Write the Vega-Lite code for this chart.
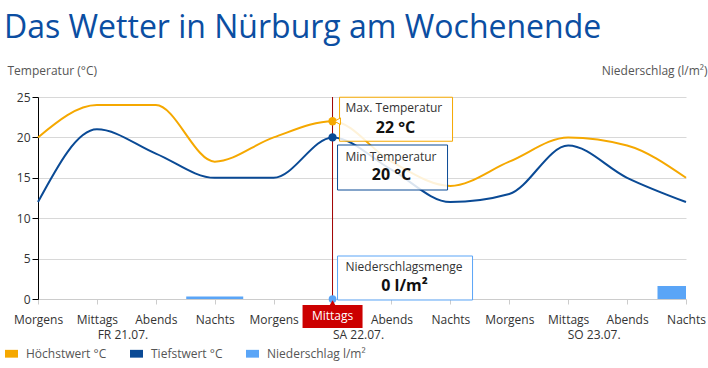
{
  "$schema": "https://vega.github.io/schema/vega-lite/v6.json",
  "width": 648,
  "height": 202,
  "autosize": {"type": "none"},
  "padding": {"left": 38, "top": 97, "right": 22, "bottom": 69},
  "background": "white",
  "config": {"font": "Open Sans", "view": {"stroke": null}},
  "title": {"text": "Das Wetter in Nürburg am Wochenende", "anchor": "start", "frame": "group", "dx": -34, "fontSize": 32, "fontWeight": "normal", "color": "#0b4ea2", "offset": 19},
  "datasets": {
    "temp": [
      {"slot": "FR Morgens", "series": "Höchstwert °C", "value": 20},
      {"slot": "FR Mittags", "series": "Höchstwert °C", "value": 24},
      {"slot": "FR Abends", "series": "Höchstwert °C", "value": 24},
      {"slot": "FR Nachts", "series": "Höchstwert °C", "value": 17},
      {"slot": "SA Morgens", "series": "Höchstwert °C", "value": 20},
      {"slot": "SA Mittags", "series": "Höchstwert °C", "value": 22},
      {"slot": "SA Abends", "series": "Höchstwert °C", "value": 17},
      {"slot": "SA Nachts", "series": "Höchstwert °C", "value": 14},
      {"slot": "SO Morgens", "series": "Höchstwert °C", "value": 17},
      {"slot": "SO Mittags", "series": "Höchstwert °C", "value": 20},
      {"slot": "SO Abends", "series": "Höchstwert °C", "value": 19},
      {"slot": "SO Nachts", "series": "Höchstwert °C", "value": 15},
      {"slot": "FR Morgens", "series": "Tiefstwert °C", "value": 12},
      {"slot": "FR Mittags", "series": "Tiefstwert °C", "value": 21},
      {"slot": "FR Abends", "series": "Tiefstwert °C", "value": 18},
      {"slot": "FR Nachts", "series": "Tiefstwert °C", "value": 15},
      {"slot": "SA Morgens", "series": "Tiefstwert °C", "value": 15},
      {"slot": "SA Mittags", "series": "Tiefstwert °C", "value": 20},
      {"slot": "SA Abends", "series": "Tiefstwert °C", "value": 16},
      {"slot": "SA Nachts", "series": "Tiefstwert °C", "value": 12},
      {"slot": "SO Morgens", "series": "Tiefstwert °C", "value": 13},
      {"slot": "SO Mittags", "series": "Tiefstwert °C", "value": 19},
      {"slot": "SO Abends", "series": "Tiefstwert °C", "value": 15},
      {"slot": "SO Nachts", "series": "Tiefstwert °C", "value": 12}
    ],
    "rain": [
      {"slot": "FR Morgens", "series": "Niederschlag l/m²", "value": 0},
      {"slot": "FR Mittags", "series": "Niederschlag l/m²", "value": 0},
      {"slot": "FR Abends", "series": "Niederschlag l/m²", "value": 0},
      {"slot": "FR Nachts", "series": "Niederschlag l/m²", "value": 0.3},
      {"slot": "SA Morgens", "series": "Niederschlag l/m²", "value": 0},
      {"slot": "SA Mittags", "series": "Niederschlag l/m²", "value": 0},
      {"slot": "SA Abends", "series": "Niederschlag l/m²", "value": 0},
      {"slot": "SA Nachts", "series": "Niederschlag l/m²", "value": 0},
      {"slot": "SO Morgens", "series": "Niederschlag l/m²", "value": 0},
      {"slot": "SO Mittags", "series": "Niederschlag l/m²", "value": 0},
      {"slot": "SO Abends", "series": "Niederschlag l/m²", "value": 0},
      {"slot": "SO Nachts", "series": "Niederschlag l/m²", "value": 1.6}
    ],
    "days": [
      {"slot": "FR Mittags", "label": "FR 21.07."},
      {"slot": "SA Mittags", "label": "SA 22.07."},
      {"slot": "SO Mittags", "label": "SO 23.07."}
    ],
    "tips": [
      {"slot": "SA Mittags", "kind": "max", "value": 22, "head": "Max. Temperatur", "label": "22 °C"},
      {"slot": "SA Mittags", "kind": "min", "value": 20, "head": "Min Temperatur", "label": "20 °C"},
      {"slot": "SA Mittags", "kind": "rain", "value": 0, "head": "Niederschlagsmenge", "label": "0 l/m²"},
      {"slot": "SA Mittags", "kind": "sel", "value": 0, "head": "", "label": "Mittags"}
    ]
  },
  "encoding": {
    "x": {
      "field": "slot", "type": "nominal", "sort": null,
      "scale": {"type": "point", "padding": 0, "domain": ["FR Morgens", "FR Mittags", "FR Abends", "FR Nachts", "SA Morgens", "SA Mittags", "SA Abends", "SA Nachts", "SO Morgens", "SO Mittags", "SO Abends", "SO Nachts"]},
      "axis": {"title": null, "labelExpr": "datum.label == 'SA Mittags' ? '' : split(datum.label, ' ')[1]", "labelAngle": 0, "labelOverlap": false, "domainColor": "#cccccc", "tickColor": "#cccccc", "tickSize": 5, "labelPadding": 15, "labelBaseline": "middle", "labelColor": "#333333", "labelFontSize": 12, "grid": false}
    }
  },
  "layer": [
    {
      "data": {"name": "rain"},
      "mark": {"type": "bar", "width": 57, "clip": true},
      "encoding": {
        "y": {"field": "value", "type": "quantitative", "scale": {"domain": [0, 25], "nice": false},
          "axis": {"orient": "right", "title": "Niederschlag (l/m²)", "titleAngle": 0, "titleX": 21, "titleY": -27, "titleAlign": "right", "titleBaseline": "middle", "titleFontWeight": "normal", "titleFontSize": 12, "titleColor": "#555555", "labels": false, "ticks": false, "domain": false, "grid": false}},
        "color": {"field": "series", "type": "nominal",
          "scale": {"domain": ["Höchstwert °C", "Tiefstwert °C", "Niederschlag l/m²"], "range": ["#f5a800", "#0a4a95", "#5aa5f7"]},
          "legend": {"orient": "none", "legendX": -33, "legendY": 250, "direction": "horizontal", "title": null, "symbolType": "M-1,-0.6H1V0.6H-1Z", "symbolSize": 169, "symbolStrokeWidth": 0, "labelFontSize": 12, "labelColor": "#555555", "labelOffset": 8, "columnPadding": 23}}
      }
    },
    {
      "layer": [
        {
          "data": {"values": [{"slot": "SA Mittags"}]},
          "mark": {"type": "rule", "color": "#a00000", "strokeWidth": 1},
          "encoding": {}
        },
        {
          "data": {"name": "temp"},
          "mark": {"type": "line", "interpolate": "monotone", "strokeWidth": 2},
          "encoding": {
            "y": {"field": "value", "type": "quantitative", "scale": {"domain": [0, 25], "nice": false},
              "axis": {"title": "Temperatur (°C)", "titleAngle": 0, "titleX": -31, "titleY": -27, "titleAlign": "left", "titleBaseline": "middle", "titleFontWeight": "normal", "titleFontSize": 12, "titleColor": "#555555", "values": [0, 5, 10, 15, 20, 25], "grid": true, "gridColor": "#d8d8d8", "domainColor": "#000000", "tickColor": "#000000", "tickSize": 6, "labelPadding": 2, "labelColor": "#333333", "labelFontSize": 12}},
            "color": {"field": "series", "type": "nominal", "legend": null}
          }
        },
        {
          "data": {"name": "temp"},
          "transform": [{"filter": "datum.slot == 'SA Mittags'"}],
          "mark": {"type": "circle", "size": 70, "opacity": 1},
          "encoding": {
            "y": {"field": "value", "type": "quantitative"},
            "color": {"field": "series", "type": "nominal", "legend": null}
          }
        },
        {
          "data": {"name": "tips"},
          "transform": [{"filter": "datum.kind == 'rain'"}],
          "mark": {"type": "circle", "size": 60, "opacity": 1, "color": "#5aa5f7"},
          "encoding": {"y": {"field": "value", "type": "quantitative"}}
        },
        {
          "data": {"name": "days"},
          "mark": {"type": "text", "dx": 26, "dy": 36, "fontSize": 12, "color": "#333333", "baseline": "middle"},
          "encoding": {"y": {"datum": 0}, "text": {"field": "label"}}
        },
        {
          "data": {"name": "tips"},
          "transform": [{"filter": "datum.kind == 'sel'"}],
          "mark": {"type": "bar", "width": 60, "yOffset": 6, "y2Offset": 29, "color": "#cc0000"},
          "encoding": {"y": {"field": "value", "type": "quantitative"}, "y2": {"field": "value"}}
        },
        {
          "data": {"name": "tips"},
          "transform": [{"filter": "datum.kind == 'sel'"}],
          "mark": {"type": "point", "shape": "triangle-up", "size": 40, "filled": true, "opacity": 1, "color": "#cc0000", "yOffset": 4},
          "encoding": {"y": {"field": "value", "type": "quantitative"}}
        },
        {
          "data": {"name": "tips"},
          "transform": [{"filter": "datum.kind == 'sel'"}],
          "mark": {"type": "text", "dy": 17, "fontSize": 12, "color": "white", "baseline": "middle"},
          "encoding": {"y": {"field": "value", "type": "quantitative"}, "text": {"field": "label"}}
        },
        {
          "data": {"name": "tips"},
          "transform": [{"filter": "datum.kind == 'max'"}],
          "mark": {"type": "bar", "width": 113, "xOffset": 63.5, "yOffset": -24, "y2Offset": 20, "fill": "white", "fillOpacity": 0.85, "stroke": "#f5a800", "strokeWidth": 1},
          "encoding": {"y": {"field": "value", "type": "quantitative"}, "y2": {"field": "value"}}
        },
        {
          "data": {"name": "tips"},
          "transform": [{"filter": "datum.kind == 'max'"}],
          "mark": {"type": "point", "shape": "triangle-left", "size": 45, "filled": true, "opacity": 1, "color": "white", "stroke": "#f5a800", "strokeWidth": 1, "xOffset": 5},
          "encoding": {"y": {"field": "value", "type": "quantitative"}}
        },
        {
          "data": {"name": "tips"},
          "transform": [{"filter": "datum.kind == 'max'"}],
          "mark": {"type": "text", "align": "left", "dx": 13, "dy": -13, "fontSize": 12, "color": "#333333", "baseline": "middle"},
          "encoding": {"y": {"field": "value", "type": "quantitative"}, "text": {"field": "head"}}
        },
        {
          "data": {"name": "tips"},
          "transform": [{"filter": "datum.kind == 'max'"}],
          "mark": {"type": "text", "align": "center", "dx": 63, "dy": 7, "fontSize": 16, "fontWeight": "bold", "color": "#111111", "baseline": "middle"},
          "encoding": {"y": {"field": "value", "type": "quantitative"}, "text": {"field": "label"}}
        },
        {
          "data": {"name": "tips"},
          "transform": [{"filter": "datum.kind == 'min'"}],
          "mark": {"type": "bar", "width": 110, "xOffset": 60, "yOffset": 7.6, "y2Offset": 52.6, "fill": "white", "fillOpacity": 0.85, "stroke": "#0a4a95", "strokeWidth": 1},
          "encoding": {"y": {"field": "value", "type": "quantitative"}, "y2": {"field": "value"}}
        },
        {
          "data": {"name": "tips"},
          "transform": [{"filter": "datum.kind == 'min'"}],
          "mark": {"type": "text", "align": "left", "dx": 13, "dy": 19.6, "fontSize": 12, "color": "#333333", "baseline": "middle"},
          "encoding": {"y": {"field": "value", "type": "quantitative"}, "text": {"field": "head"}}
        },
        {
          "data": {"name": "tips"},
          "transform": [{"filter": "datum.kind == 'min'"}],
          "mark": {"type": "text", "align": "center", "dx": 59, "dy": 37.6, "fontSize": 16, "fontWeight": "bold", "color": "#111111", "baseline": "middle"},
          "encoding": {"y": {"field": "value", "type": "quantitative"}, "text": {"field": "label"}}
        },
        {
          "data": {"name": "tips"},
          "transform": [{"filter": "datum.kind == 'rain'"}],
          "mark": {"type": "bar", "width": 135, "xOffset": 72.5, "yOffset": -43, "y2Offset": 1, "fill": "white", "fillOpacity": 0.85, "stroke": "#5aa5f7", "strokeWidth": 1},
          "encoding": {"y": {"field": "value", "type": "quantitative"}, "y2": {"field": "value"}}
        },
        {
          "data": {"name": "tips"},
          "transform": [{"filter": "datum.kind == 'rain'"}],
          "mark": {"type": "text", "align": "left", "dx": 13, "dy": -32, "fontSize": 12, "color": "#333333", "baseline": "middle"},
          "encoding": {"y": {"field": "value", "type": "quantitative"}, "text": {"field": "head"}}
        },
        {
          "data": {"name": "tips"},
          "transform": [{"filter": "datum.kind == 'rain'"}],
          "mark": {"type": "text", "align": "center", "dx": 72, "dy": -13, "fontSize": 16, "fontWeight": "bold", "color": "#111111", "baseline": "middle"},
          "encoding": {"y": {"field": "value", "type": "quantitative"}, "text": {"field": "label"}}
        }
      ]
    }
  ],
  "resolve": {"scale": {"y": "independent"}}
}
